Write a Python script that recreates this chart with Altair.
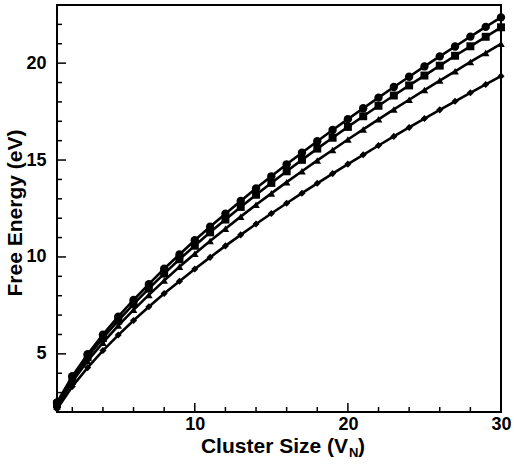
import altair as alt
import pandas as pd

cluster_size = list(range(1, 31))

circles = [2.50, 3.85, 4.98, 5.99, 6.92, 7.78, 8.60, 9.39, 10.13, 10.86,
           11.56, 12.23, 12.89, 13.54, 14.16, 14.78, 15.38, 15.97, 16.55, 17.11,
           17.67, 18.22, 18.77, 19.30, 19.83, 20.35, 20.86, 21.37, 21.87, 22.36]
squares = [2.40, 3.72, 4.83, 5.82, 6.72, 7.57, 8.37, 9.14, 9.88, 10.58,
           11.27, 11.93, 12.58, 13.21, 13.82, 14.42, 15.01, 15.59, 16.15, 16.71,
           17.26, 17.80, 18.33, 18.85, 19.36, 19.87, 20.38, 20.87, 21.36, 21.85]
triangles = [2.30, 3.57, 4.63, 5.58, 6.46, 7.27, 8.04, 8.78, 9.49, 10.17,
             10.82, 11.46, 12.08, 12.69, 13.28, 13.86, 14.42, 14.98, 15.52, 16.06,
             16.58, 17.10, 17.61, 18.11, 18.61, 19.10, 19.58, 20.06, 20.53, 21.00]
diamonds = [2.15, 3.32, 4.29, 5.17, 5.97, 6.72, 7.43, 8.11, 8.75, 9.38,
            9.98, 10.57, 11.14, 11.70, 12.24, 12.77, 13.29, 13.80, 14.30, 14.79,
            15.27, 15.75, 16.22, 16.68, 17.14, 17.59, 18.03, 18.47, 18.90, 19.33]

series_names = ["circles", "squares", "triangles", "diamonds"]
marker_shapes = ["circle", "square", "triangle-up", "diamond"]
marker_sizes = [70, 50, 40, 40]

x_major = [10, 20, 30]
x_minor = [2, 4, 6, 8, 12, 14, 16, 18, 22, 24, 26, 28]
y_major = [5, 10, 15, 20]
y_minor = [3, 4, 6, 7, 8, 9, 11, 12, 13, 14, 16, 17, 18, 19, 21, 22]

y_title = ["Free Energy (eV)"]
x_title_main = ["Cluster Size (V"]
x_title_sub = ["N"]
x_title_end = [")"]

rows = []
for name, vals in zip(series_names, [circles, squares, triangles, diamonds]):
    for n, v in zip(cluster_size, vals):
        rows.append({"n": n, "E": v, "series": name})
df = pd.DataFrame(rows)

FONT = "Liberation Sans"
xs = alt.Scale(domain=[1, 30], nice=False, zero=False)
ys = alt.Scale(domain=[2, 23], nice=False, zero=False)

x_axis = alt.Axis(values=x_major, title=None, tickSize=0, labelFontSize=18,
                  labelFontWeight="bold", labelFont=FONT, labelColor="black",
                  labelPadding=3, grid=False, domain=False, labelFlush=False)
y_axis = alt.Axis(values=y_major, title=None, tickSize=0, labelFontSize=18,
                  labelFontWeight="bold", labelFont=FONT, labelColor="black",
                  labelPadding=11, grid=False, domain=False)

base = alt.Chart(df)
lines = base.mark_line(color="black", strokeWidth=2.6).encode(
    x=alt.X("n:Q", scale=xs, axis=x_axis),
    y=alt.Y("E:Q", scale=ys, axis=y_axis),
    detail="series:N",
)
points = base.mark_point(filled=True, color="black", opacity=1).encode(
    x=alt.X("n:Q", scale=xs, axis=x_axis),
    y=alt.Y("E:Q", scale=ys, axis=y_axis),
    shape=alt.Shape("series:N", scale=alt.Scale(domain=series_names, range=marker_shapes), legend=None),
    size=alt.Size("series:N", scale=alt.Scale(domain=series_names, range=marker_sizes), legend=None),
)


def yticks(vals, length):
    return alt.Chart(pd.DataFrame({"v": vals})).mark_rule(color="black", strokeWidth=1.5).encode(
        y=alt.Y("v:Q", scale=ys, axis=y_axis),
        x=alt.value(0),
        x2=alt.value(length),
    )


def xticks(vals, length):
    return alt.Chart(pd.DataFrame({"v": vals})).mark_rule(color="black", strokeWidth=1.5).encode(
        x=alt.X("v:Q", scale=xs, axis=x_axis),
        y=alt.value(407),
        y2=alt.value(407 - length),
    )


def label(texts, x, y, size, align):
    return alt.Chart(pd.DataFrame({"t": texts})).mark_text(
        font=FONT, fontSize=size, fontWeight="bold", color="black",
        align=align, baseline="alphabetic",
    ).encode(x=alt.value(x), y=alt.value(y), text="t:N")


ytitle = alt.Chart(pd.DataFrame({"t": y_title})).mark_text(
    font=FONT, fontSize=21, fontWeight="bold", color="black",
    align="center", baseline="middle", angle=270,
).encode(x=alt.value(-41), y=alt.value(208), text="t:N")

xt1 = label(x_title_main, 291, 448, 21, "right")
xt2 = label(x_title_sub, 292, 452, 13, "left")
xt3 = label(x_title_end, 301, 448, 21, "left")

chart = alt.layer(
    lines, points,
    yticks(y_major, 9), yticks(y_minor, 5), xticks(x_major, 9), xticks(x_minor, 5),
    ytitle, xt1, xt2, xt3,
).properties(
    width=444, height=407,
    padding={"left": 57, "top": 5, "right": 13, "bottom": 56},
    autosize=alt.AutoSizeParams(type="none"),
    background="white",
).configure_view(stroke="black", strokeWidth=2)

chart.save("out.html", embed_options={"renderer": "svg", "actions": False})
